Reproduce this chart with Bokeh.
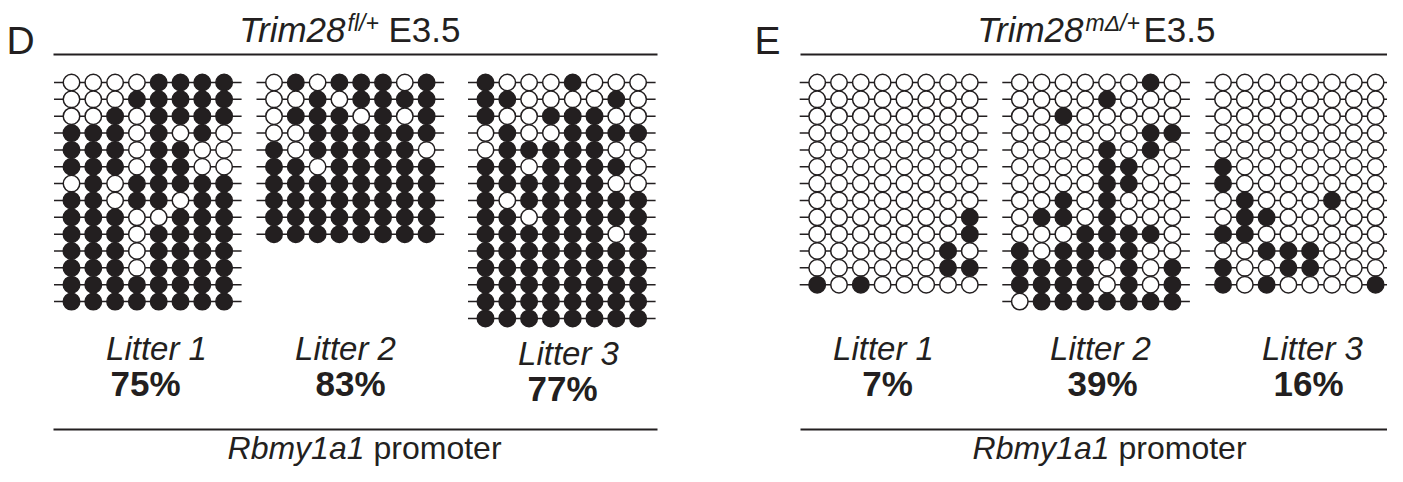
from bokeh.plotting import figure
from bokeh.models import Range1d
from bokeh.core.properties import value
from bokeh.embed import file_html
from bokeh.resources import INLINE

# ---------------- data (1 = methylated CpG, 0 = unmethylated) ----------------
d_litter1 = ["00001111", "00011111", "00101111", "11101010", "11101100",
             "11101100", "01011111", "11011011", "11100111", "11101111",
             "11101111", "11101111", "11111111", "11111111"]
d_litter2 = ["01011101", "00101111", "01110101", "00111111", "10111110",
             "11011111", "11111111", "11111111", "11111111", "11111111"]
d_litter3 = ["10001000", "11000010", "10011100", "01001111", "01111100",
             "11011110", "11111100", "10111111", "11011111", "11111101",
             "11111111", "11111111", "11111111", "11111111", "11111111"]
e_litter1 = ["00000000", "00000000", "00000000", "00000000", "00000000",
             "00000000", "00000000", "00000000", "00000001", "00000001",
             "00000010", "00000011", "10100000"]
e_litter2 = ["00000010", "00001000", "00100000", "00000011", "00001010",
             "00001100", "00001100", "00101000", "01101000", "00011110",
             "10111100", "11110101", "11110101", "01111111"]
e_litter3 = ["00000000", "00000000", "00000000", "00000000", "00000000",
             "10000000", "10000000", "01000100", "01100000", "11000000",
             "00111000", "10011000", "10100001"]

litters = [d_litter1, d_litter2, d_litter3, e_litter1, e_litter2, e_litter3]
litter_labels = ["Litter 1", "Litter 2", "Litter 3", "Litter 1", "Litter 2", "Litter 3"]
percent_labels = ["75%", "83%", "77%", "7%", "39%", "16%"]
panel_letters = ["D", "E"]
title_gene = ["Trim28", "Trim28"]
title_sup = ["fl/+", "m\u0394/+"]
title_stage = ["E3.5", "E3.5"]
footer_gene = ["Rbmy1a1", "Rbmy1a1"]
footer_word = ["promoter", "promoter"]

# ---------------- layout (screen pixel coordinates) ----------------
W, H = 1387, 466
grid_x0 = [71, 273.5, 485, 816.7, 1019.3, 1222.5]
grid_y0 = 82
dx, dy = 21.8, 16.85
stub = 17.5
dot_size = 16.5
ink = "#231f20"
FONT = value("Liberation Sans")
BASE_SHIFT = 0.39  # svg text sits this many em below the requested baseline


def base(y, fs):
    return y - BASE_SHIFT * fs


litter_fs, pct_fs, title_fs, sup_fs, letter_fs, footer_fs = 33, 35, 35, 23, 39, 32
litter_cx = [156, 345, 568, 883, 1100, 1312]
litter_base = [361, 361, 366, 361, 361, 361]
pct_cx = [145, 350, 562, 887, 1102, 1308]
pct_base = [397, 397, 402, 397, 397, 397]

panel_letter_x = [6, 754]
letter_base = 55
rule_top_y = 54
rule_bot_y = 429
rule_x = [(53, 657), (800, 1398)]
title_gene_right = [345, 1083]
title_sup_left = [347, 1085]
title_stage_left = [388, 1143]
title_base = 43
sup_base = 31
footer_cx = [366, 1111]
footer_base = 460

p = figure(width=W, height=H, output_backend="svg", toolbar_location=None,
           x_range=Range1d(0, W), y_range=Range1d(H, 0),
           min_border=0, outline_line_color=None)
p.axis.visible = False
p.grid.visible = False
p.background_fill_color = "white"
p.border_fill_color = "white"

# grids of lollipops
for g, rows in enumerate(litters):
    xs, ys, fills = [], [], []
    sx0, sx1, sy = [], [], []
    for r, row in enumerate(rows):
        y = grid_y0 + r * dy
        sx0.append(grid_x0[g] - stub)
        sx1.append(grid_x0[g] + (len(row) - 1) * dx + stub)
        sy.append(y)
        for c, ch in enumerate(row):
            xs.append(grid_x0[g] + c * dx)
            ys.append(y)
            fills.append(ink if ch == "1" else "white")
    p.segment(x0=sx0, y0=sy, x1=sx1, y1=sy, line_color=ink, line_width=1.5)
    p.scatter(x=xs, y=ys, size=dot_size, fill_color=fills, line_color=ink,
              line_width=1.5, marker="circle")

# litter labels and percentages
p.text(x=litter_cx, y=[base(b, litter_fs) for b in litter_base], text=litter_labels,
       text_font=FONT, text_font_size=f"{litter_fs}px", text_font_style="italic",
       text_align="center", text_baseline="alphabetic", text_color=ink)
p.text(x=pct_cx, y=[base(b, pct_fs) for b in pct_base], text=percent_labels,
       text_font=FONT, text_font_size=f"{pct_fs}px", text_font_style="bold",
       text_align="center", text_baseline="alphabetic", text_color=ink)

# panel letters
p.text(x=panel_letter_x, y=[base(letter_base, letter_fs)] * 2, text=panel_letters,
       text_font=FONT, text_font_size=f"{letter_fs}px", text_align="left",
       text_baseline="alphabetic", text_color=ink)

# rules
for (a, b) in rule_x:
    p.segment(x0=[a, a], y0=[rule_top_y, rule_bot_y], x1=[b, b],
              y1=[rule_top_y, rule_bot_y], line_color=ink, line_width=2.2)

# titles
p.text(x=title_gene_right, y=[base(title_base, title_fs)] * 2, text=title_gene,
       text_font=FONT, text_font_size=f"{title_fs}px", text_font_style="italic",
       text_align="right", text_baseline="alphabetic", text_color=ink)
p.text(x=title_sup_left, y=[base(sup_base, sup_fs)] * 2, text=title_sup,
       text_font=FONT, text_font_size=f"{sup_fs}px", text_font_style="italic",
       text_align="left", text_baseline="alphabetic", text_color=ink)
p.text(x=title_stage_left, y=[base(title_base, title_fs)] * 2, text=title_stage,
       text_font=FONT, text_font_size=f"{title_fs}px", text_align="left",
       text_baseline="alphabetic", text_color=ink)

# footers: italic gene name + upright word
p.text(x=[c - 2 for c in footer_cx], y=[base(footer_base, footer_fs)] * 2,
       text=footer_gene, text_font=FONT, text_font_size=f"{footer_fs}px",
       text_font_style="italic", text_align="right", text_baseline="alphabetic",
       text_color=ink)
p.text(x=[c + 7 for c in footer_cx], y=[base(footer_base, footer_fs)] * 2,
       text=footer_word, text_font=FONT, text_font_size=f"{footer_fs}px",
       text_align="left", text_baseline="alphabetic", text_color=ink)

open("out.html", "w").write(file_html(p, INLINE))
